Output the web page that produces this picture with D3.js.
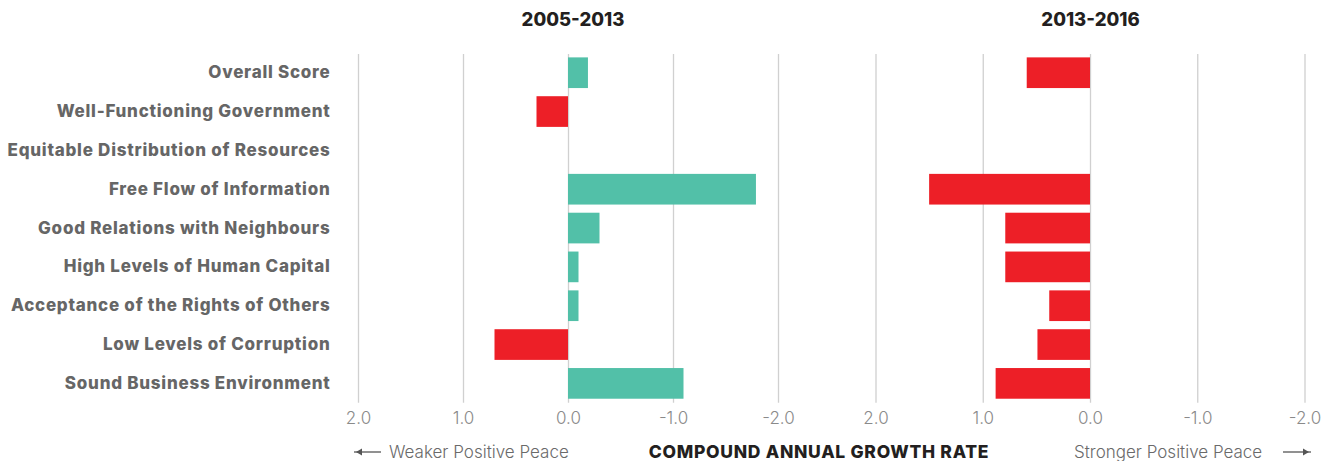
<!DOCTYPE html>
<html><head><meta charset="utf-8">
<script src="https://cdn.jsdelivr.net/npm/d3@7"></script>
<style>
html,body{margin:0;padding:0;background:#fff;}
svg{display:block;}
</style></head>
<body>
<svg id="chart" width="1336" height="461"></svg>
<script>
const categories = [
  "Overall Score",
  "Well-Functioning Government",
  "Equitable Distribution of Resources",
  "Free Flow of Information",
  "Good Relations with Neighbours",
  "High Levels of Human Capital",
  "Acceptance of the Rights of Others",
  "Low Levels of Corruption",
  "Sound Business Environment"
];
const values2005_2013 = [-0.19, 0.30, 0, -1.79, -0.30, -0.10, -0.10, 0.70, -1.10];
const values2013_2016 = [0.59, 0, 0, 1.50, 0.79, 0.79, 0.38, 0.49, 0.88];
const tickValues = [2, 1, 0, -1, -2];
const panelTitles = ["2005-2013", "2013-2016"];

const svg = d3.select("#chart");
const RED = "#ED1F27", TEAL = "#52C0A8";
const FONT = "Inter";

const y = d3.scaleBand().domain(categories).range([53.3, 402.8])
  .paddingInner(0.21).paddingOuter(0.105);

const panels = [
  {title: panelTitles[0], values: values2005_2013, x: d3.scaleLinear().domain([2, -2]).range([358, 778]), tx: 573},
  {title: panelTitles[1], values: values2013_2016, x: d3.scaleLinear().domain([2, -2]).range([875.5, 1304.5]), tx: 1090.5}
];

panels.forEach(p => {
  const g = svg.append("g");
  const axis = d3.axisBottom(p.x).tickValues(tickValues)
    .tickSize(-(402.8 - 54)).tickPadding(9)
    .tickFormat(d => d.toFixed(1));
  const ag = g.append("g").attr("transform", "translate(0,402.8)").call(axis);
  ag.select(".domain").remove();
  ag.selectAll(".tick line").attr("stroke", "#d0d0d0").attr("stroke-width", 1.3);
  ag.selectAll(".tick text").attr("fill", "#8a8a8a")
    .style("font-family", FONT).style("font-weight", 300).style("font-size", "17px");

  g.selectAll("rect.bar").data(p.values.map((v, i) => ({v, c: categories[i]})).filter(d => d.v !== 0))
    .enter().append("rect")
    .attr("x", d => Math.min(p.x(d.v), p.x(0)))
    .attr("width", d => Math.abs(p.x(d.v) - p.x(0)))
    .attr("y", d => y(d.c))
    .attr("height", y.bandwidth())
    .attr("fill", d => d.v > 0 ? RED : TEAL);

  g.append("text").attr("x", p.tx)
    .attr("y", 26).attr("text-anchor", "middle")
    .style("font-family", FONT).style("font-weight", 800).style("font-size", "18.5px")
    .attr("fill", "#231f20").text(p.title);
});

svg.append("g").selectAll("text").data(categories).enter().append("text")
  .attr("x", 330.5).attr("y", d => y(d) + y.bandwidth() / 2)
  .attr("dy", "0.33em").attr("text-anchor", "end")
  .style("font-family", FONT).style("font-weight", 800).style("font-size", "17px")
  .style("letter-spacing", "0.75px")
  .attr("fill", "#666666").text(d => d);

// bottom annotations
svg.append("text").attr("x", 389).attr("y", 458)
  .style("font-family", FONT).style("font-weight", 300).style("font-size", "17px")
  .attr("fill", "#6a6a6a").text("Weaker Positive Peace");
svg.append("text").attr("x", 1074).attr("y", 458)
  .style("font-family", FONT).style("font-weight", 300).style("font-size", "17px")
  .attr("fill", "#6a6a6a").text("Stronger Positive Peace");
svg.append("text").attr("x", 819).attr("y", 458).attr("text-anchor", "middle")
  .style("font-family", FONT).style("font-weight", 800).style("font-size", "17.5px")
  .style("letter-spacing", "0.7px")
  .attr("fill", "#231f20").text("COMPOUND ANNUAL GROWTH RATE");

function arrow(x1, x2, yy) {
  svg.append("line").attr("x1", x1).attr("x2", x2).attr("y1", yy).attr("y2", yy)
    .attr("stroke", "#555").attr("stroke-width", 1.3);
  const dir = Math.sign(x2 - x1);
  svg.append("path").attr("d", `M${x2 - dir * 2},${yy} L${x2 - dir * 8},${yy - 3.5} L${x2 - dir * 8},${yy + 3.5} Z`)
    .attr("fill", "#555");
}
arrow(381, 354, 452);
arrow(1283, 1311, 452);
</script>
</body></html>
